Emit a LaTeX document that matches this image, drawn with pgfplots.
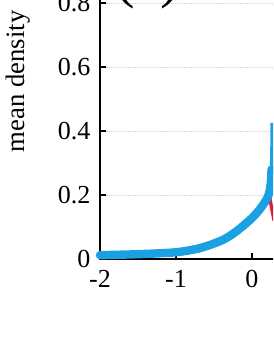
\documentclass[border=0pt]{standalone}
\usepackage{fontspec}
\setmainfont{Liberation Serif}
\usepackage{pgfplots}
\pgfplotsset{compat=1.18}
\definecolor{myblue}{RGB}{27,161,226}
\definecolor{myred}{RGB}{220,30,60}
\begin{document}
\begin{tikzpicture}
\path[use as bounding box] (0,0) rectangle (204.75pt,264.75pt);
\clip (0,0) rectangle (204.75pt,264.75pt);
\begin{axis}[
  at={(75pt,70.5pt)}, anchor=south west,
  scale only axis, width=228pt, height=240pt,
  xmin=-2, xmax=2, ymin=0, ymax=1,
  clip=false,
  axis line style={line width=2.2pt},
  xtick={-2,-1,0,1,2}, xticklabels={-2,-1,0,1,2},
  ytick={0,0.2,0.4,0.6,0.8,1}, yticklabels={0,0.2,0.4,0.6,0.8,1},
  tick align=inside, major tick length=4.5pt,
  tick style={line width=1.6pt, black},
  ymajorgrids, grid style={densely dotted, gray!35, line width=0.6pt},
  tick label style={font=\fontsize{19.5}{22}\selectfont},
  yticklabel style={xshift=-3.6pt},
  xticklabel style={yshift=-5pt},
  ylabel={mean density},
  every axis y label/.style={at={(rel axis cs:-0.27,0.555)}, rotate=90, anchor=center, font=\fontsize{20}{22}\selectfont},
]
\addplot[myred, line width=2.5pt] coordinates {(0.235,0.19)(0.25,0.17)(0.27,0.145)(0.29,0.12)};
\addplot[myblue, line width=6.3pt, line cap=round, line join=round, smooth, tension=0.5] coordinates {
(-2.0,0.012)(-1.8,0.013)(-1.5,0.015)(-1.2,0.018)(-1.0,0.021)(-0.85,0.026)
(-0.7,0.033)(-0.55,0.044)(-0.4,0.058)(-0.28,0.074)(-0.16,0.095)(0.0,0.128)
(0.105,0.156)(0.18,0.182)(0.215,0.198)(0.238,0.22)(0.25,0.245)(0.257,0.28)};
\addplot[myblue, line width=2.4pt] coordinates {(0.255,0.26)(0.26,0.33)(0.263,0.38)(0.264,0.425)};
\node[anchor=base, font=\fontsize{44}{48}\selectfont] at (axis cs:-1.37,0.819) {(a)};
\end{axis}
\end{tikzpicture}
\end{document}
